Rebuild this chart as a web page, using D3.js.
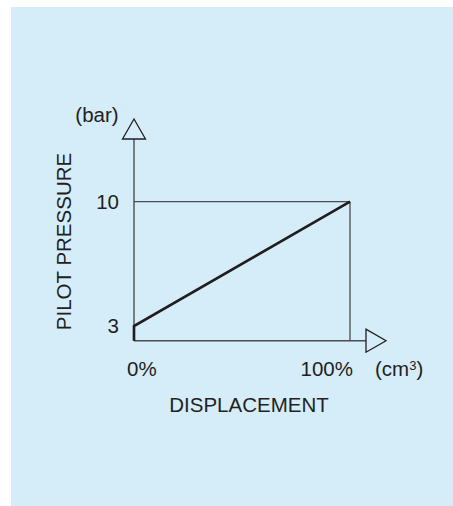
<!DOCTYPE html>
<html><head><meta charset="utf-8">
<script src="https://cdn.jsdelivr.net/npm/d3@7"></script>
<style>html,body{margin:0;padding:0;background:#fff;}svg{display:block;}</style>
</head><body>
<script>
const displacement = [0, 100];          // %
const pressure = [3, 10];               // bar
const xTickLabels = ["0%", "100%"];
const yTickLabels = ["3", "10"];
const xTitle = "DISPLACEMENT";
const yTitle = "PILOT PRESSURE";
const yUnit = "(bar)";

const W = 453, H = 506;
const svg = d3.select("body").append("svg").attr("width", W).attr("height", H);
svg.append("rect").attr("x", 11).attr("y", 7).attr("width", W - 11).attr("height", H - 7).attr("fill", "#d5ecf9");

const x = d3.scaleLinear().domain([0, 100]).range([134, 350]);
const y = d3.scaleLinear().domain([3, 10]).range([326, 201.7]);
const axisY = 340.7;
const font = "'Liberation Sans', Arial, Helvetica, sans-serif";
const txt = "#231f20";
const axCol = "#4d4d4f";

const g = svg.append("g");
// guide lines at 10 bar / 100%
g.append("line").attr("x1", x(0)).attr("x2", x(100)).attr("y1", y(10)).attr("y2", y(10))
  .attr("stroke", axCol).attr("stroke-width", 1.3);
g.append("line").attr("x1", x(100)).attr("x2", x(100)).attr("y1", y(10)).attr("y2", axisY)
  .attr("stroke", axCol).attr("stroke-width", 1.3);
// axes
g.append("line").attr("x1", x(0)).attr("x2", 366).attr("y1", axisY).attr("y2", axisY)
  .attr("stroke", axCol).attr("stroke-width", 1.4);
g.append("line").attr("x1", x(0)).attr("x2", x(0)).attr("y1", axisY).attr("y2", 139)
  .attr("stroke", axCol).attr("stroke-width", 1.4);
// arrow heads
g.append("path").attr("d", `M${x(0)-11.5},139 L${x(0)+11.5},139 L${x(0)},119 Z`)
  .attr("fill", "#d5ecf9").attr("stroke", "#231f20").attr("stroke-width", 1.3).attr("stroke-linejoin", "miter");
g.append("path").attr("d", `M366,${axisY-11.5} L366,${axisY+11.5} L386,${axisY} Z`)
  .attr("fill", "#d5ecf9").attr("stroke", "#231f20").attr("stroke-width", 1.3);

// curve
const pts = [[x(displacement[0]), axisY]].concat(displacement.map((d, i) => [x(d), y(pressure[i])]));
g.append("path").attr("d", d3.line()(pts)).attr("fill", "none")
  .attr("stroke", "#1f1d1e").attr("stroke-width", 2.6).attr("stroke-linejoin", "miter");

// tick labels
const fs = 20.5;
pressure.forEach((p, i) => {
  g.append("text").attr("x", 119).attr("y", y(p)).attr("dy", "0.36em").attr("text-anchor", "end")
    .attr("font-family", font).attr("font-size", fs).attr("fill", txt).text(yTickLabels[i]);
});
g.append("text").attr("x", x(0) - 7).attr("y", 375.5).attr("font-family", font).attr("font-size", fs).attr("fill", txt).text(xTickLabels[0]);
g.append("text").attr("x", x(100) + 3).attr("y", 375.5).attr("text-anchor", "end").attr("font-family", font).attr("font-size", fs).attr("fill", txt).text(xTickLabels[1]);
const cm = g.append("text").attr("x", 375).attr("y", 375.5).attr("font-family", font).attr("font-size", fs).attr("fill", txt);
cm.append("tspan").text("(cm");
cm.append("tspan").attr("font-size", 13).attr("dy", -6).text("3");
cm.append("tspan").attr("dy", 6).text(")");

g.append("text").attr("x", 97).attr("y", 122).attr("text-anchor", "middle").attr("font-family", font).attr("font-size", fs).attr("fill", txt).text(yUnit);
g.append("text").attr("x", 249).attr("y", 411.5).attr("text-anchor", "middle").attr("font-family", font).attr("font-size", fs).attr("fill", txt).text(xTitle);
g.append("text").attr("transform", "translate(71,241.5) rotate(-90)").attr("text-anchor", "middle")
  .attr("font-family", font).attr("font-size", fs).attr("fill", txt).text(yTitle);
</script>
</body></html>
